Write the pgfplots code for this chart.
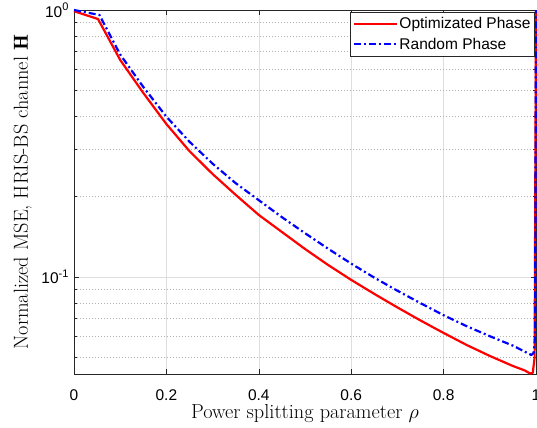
\RequirePackage{fix-cm}
\documentclass[border=0pt]{standalone}
\usepackage{fontspec}
\usepackage{pgfplots}
\usepackage{pgfplotstable}
\pgfplotsset{compat=1.18}
\newfontfamily\arial{Liberation Sans}
\newcommand\tickfont{\arial\fontsize{15.5bp}{18bp}\selectfont}
\newcommand\labfont{\fontsize{20.3bp}{24bp}\selectfont}
\newcommand\supr[1]{\raisebox{0.42em}{\fontsize{11bp}{12bp}\selectfont #1}}

\pgfplotstableread{
x y
0 0.99
0.052 0.925
0.1 0.650
0.15 0.489
0.2 0.374
0.25 0.296
0.3 0.243
0.35 0.203
0.4 0.1707
0.45 0.1474
0.5 0.1273
0.55 0.1109
0.6 0.0975
0.65 0.0864
0.7 0.0769
0.75 0.0687
0.8 0.0617
0.85 0.0556
0.9 0.0506
0.95 0.0464
0.975 0.0447
0.987 0.0435
0.993 0.0437
0.997 0.050
1.0 1.0
}\redtab

\pgfplotstableread{
x y
0 1.0
0.055 0.958
0.1 0.681
0.15 0.515
0.2 0.3985
0.25 0.321
0.3 0.2657
0.35 0.2245
0.4 0.1939
0.45 0.1675
0.5 0.1459
0.55 0.1276
0.6 0.1122
0.65 0.0994
0.7 0.0888
0.75 0.0798
0.8 0.0719
0.85 0.0654
0.9 0.0600
0.95 0.0553
0.99 0.0510
0.995 0.052
0.998 0.060
1.0 1.0
}\bluetab

\begin{document}
\begin{tikzpicture}
\begin{axis}[
  scale only axis, width=462bp, height=364bp,
  xmin=0, xmax=1, ymode=log, ymin=0.0433, ymax=1,
  clip=false,
  xtick={0,0.2,0.4,0.6,0.8,1}, xticklabels={0,0.2,0.4,0.6,0.8,1},
  ytick={0.1,1}, yticklabels={{10\supr{-1}},{10\supr{0}}},
  minor ytick={0.05,0.06,0.07,0.08,0.09,0.2,0.3,0.4,0.5,0.6,0.7,0.8,0.9},
  xmajorgrids, ymajorgrids, yminorgrids,
  major grid style={black!13, line width=0.5bp},
  minor grid style={black!30, line width=0.5bp, dash pattern=on 1bp off 2bp},
  axis line style={black!85, line width=0.6bp},
  tick style={black!85, line width=0.6bp},
  major tick length=5bp, minor tick length=3bp,
  tick align=inside,
  ticklabel style={font=\tickfont},
  xticklabel style={yshift=-12bp},
  yticklabel style={xshift=-2bp},
  xlabel={Power splitting parameter $\rho$},
  ylabel={Normalized MSE, HRIS-BS channel $\mathbf{H}$},
  xlabel style={font=\labfont, at={(axis description cs:0.5,-0.1209)}, anchor=base},
  ylabel style={font=\labfont, at={(axis description cs:-0.0996,0.5)}, anchor=base},
  legend style={at={(rel axis cs:1,1)}, anchor=north east, xshift=-1bp, yshift=-2bp,
    font=\arial\fontsize{15.5bp}{18bp}\selectfont, draw=black!85, line width=0.6bp, fill=white,
    inner xsep=2.5bp, inner ysep=3.5bp, row sep=4bp, cells={anchor=west}, nodes={inner sep=1.8bp}},
  legend image code/.code={\draw[#1] (0bp,0bp) -- (43bp,0bp);},
]
\addplot[red, line width=2.2bp, line join=round] table[x=x,y=y] {\redtab};
\addlegendentry{Optimizated Phase}
\addplot[blue, line width=2.2bp, line join=round, dash pattern=on 7bp off 3bp on 2bp off 3bp] table[x=x,y=y] {\bluetab};
\addlegendentry{Random Phase}
\end{axis}
\pgfresetboundingbox
\path[use as bounding box] ([shift={(-74bp,-54bp)}]current axis.south west) rectangle ([shift={(1bp,10bp)}]current axis.north east);
\end{tikzpicture}
\end{document}
